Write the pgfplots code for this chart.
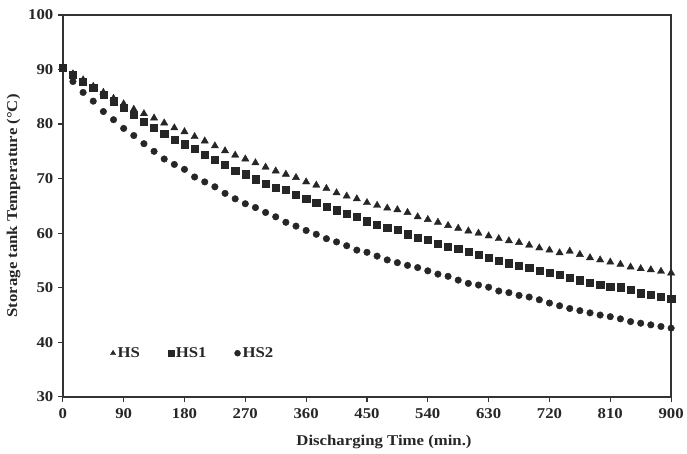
\documentclass[border=0pt]{standalone}
\usepackage{fontspec}
\setmainfont{Liberation Serif}[FakeStretch=1.12]
\usepackage{pgfplots}
\pgfplotsset{compat=1.18}
\usepackage{pgfplotstable}
\pgfplotstableread{
t hs hs1 hs2
0 90.3 90.3 90.3
15 89.2 89.0 87.8
30 88.1 87.8 85.8
45 86.9 86.7 84.2
60 85.8 85.4 82.3
75 84.7 84.2 80.8
90 83.7 83.0 79.2
105 82.7 81.7 77.9
120 81.9 80.5 76.4
135 81.1 79.3 75.0
150 80.2 78.3 73.6
165 79.3 77.2 72.6
180 78.6 76.3 71.7
195 77.7 75.5 70.3
210 76.9 74.4 69.4
225 76.0 73.5 68.5
240 75.1 72.6 67.3
255 74.3 71.5 66.3
270 73.6 70.8 65.4
285 72.9 69.9 64.7
300 72.1 69.1 63.8
315 71.4 68.3 63.0
330 70.8 67.9 62.0
345 70.2 67.1 61.3
360 69.4 66.3 60.5
375 68.8 65.6 59.8
390 68.2 64.9 59.0
405 67.4 64.2 58.4
420 66.8 63.6 57.7
435 66.3 63.0 56.9
450 65.6 62.2 56.5
465 65.1 61.6 55.8
480 64.6 61.0 55.1
495 64.3 60.6 54.6
510 63.8 59.8 54.1
525 63.0 59.2 53.7
540 62.5 58.8 53.1
555 62.0 58.1 52.5
570 61.4 57.5 52.1
585 60.9 57.1 51.4
600 60.4 56.6 50.8
615 60.0 56.1 50.5
630 59.5 55.5 50.1
645 59.0 54.9 49.4
660 58.6 54.5 49.1
675 58.3 54.0 48.6
690 57.8 53.7 48.3
705 57.3 53.1 47.8
720 56.9 52.8 47.2
735 56.4 52.4 46.7
750 56.7 51.9 46.2
765 56.1 51.4 45.8
780 55.5 51.0 45.4
795 55.1 50.5 45.0
810 54.7 50.2 44.7
825 54.3 50.1 44.3
840 53.8 49.6 43.8
855 53.5 49.0 43.5
870 53.3 48.8 43.2
885 53.0 48.4 42.9
900 52.7 48.0 42.6
}\data
\begin{document}
\begin{tikzpicture}
\begin{axis}[
  scale only axis, width=610pt, height=383pt,
  xmin=0, xmax=900, ymin=30, ymax=100,
  xtick={0,90,...,900}, ytick={30,40,...,100},
  tick align=outside, xtick pos=bottom, ytick pos=left,
  major tick length=5pt,
  axis line style={line width=1.6pt, color=black!80},
  tick style={line width=1.2pt, color=black!80},
  /pgf/number format/assume math mode=true,
  every tick label/.append style={font=\fontsize{15}{17}\selectfont\bfseries, text=black!85},
  xticklabel style={yshift=-3pt},
  yticklabel style={xshift=-1pt},
  xlabel={Discharging Time (min.)},
  ylabel={Storage tank Temperature (°C)},
  label style={font=\fontsize{15}{17}\selectfont\bfseries, text=black!85},
  xlabel style={at={(ticklabel cs:0.528)}, yshift=-10pt},
  ylabel style={yshift=1pt},
  legend style={at={(axis description cs:0.078,0.135)}, anchor=north west, draw=none, fill=none,
    font=\fontsize{15}{17}\selectfont\bfseries, text=black!85,
    /tikz/every even column/.append style={column sep=26pt},
    inner sep=0pt},
  legend columns=3, legend cell align=left,
  legend image code/.code={\draw[#1, mark size=3pt] plot coordinates {(0.25cm,0cm)};},
]
\addplot[only marks, mark=triangle*, mark size=4.2pt, black!85] table[x=t, y=hs] {\data};
\addlegendentry{HS}
\addplot[only marks, mark=square*, mark size=3.6pt, black!85] table[x=t, y=hs1] {\data};
\addlegendentry{HS1}
\addplot[only marks, mark=*, mark size=3.3pt, black!85] table[x=t, y=hs2] {\data};
\addlegendentry{HS2}
\end{axis}
\path (current axis.south west) ++(-63pt,-57pt) rectangle ([shift={(14pt,15pt)}]current axis.north east);
\end{tikzpicture}
\end{document}
